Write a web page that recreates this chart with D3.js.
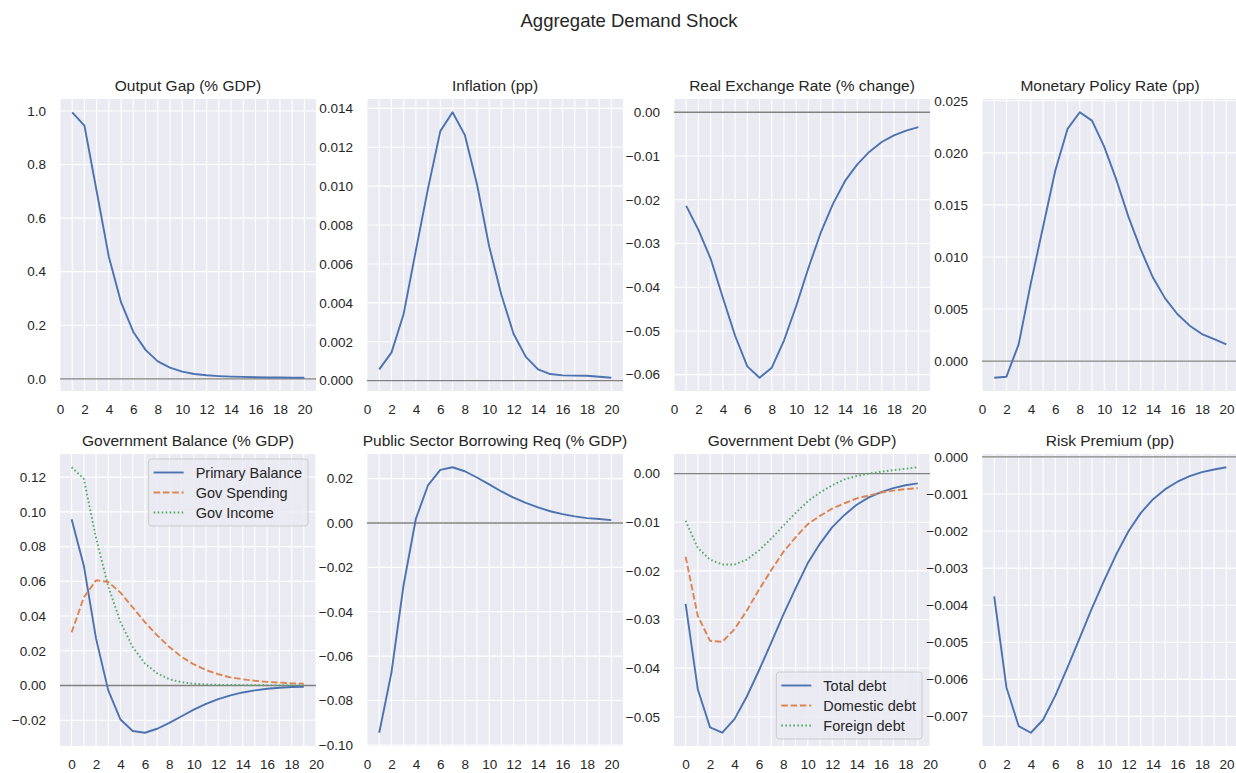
<!DOCTYPE html>
<html>
<head>
<meta charset="utf-8">
<script src="https://cdn.jsdelivr.net/npm/d3@7"></script>
<style>
  html, body { margin: 0; padding: 0; background: #ffffff; }
  svg { display: block; font-family: "Liberation Sans", Arial, sans-serif; }
</style>
</head>
<body>
<svg id="chart" width="1236" height="773"></svg>
<script>
// Horizons (quarters after the shock)
const horizon1to20 = [1,2,3,4,5,6,7,8,9,10,11,12,13,14,15,16,17,18,19,20];
const horizon0to19 = [0,1,2,3,4,5,6,7,8,9,10,11,12,13,14,15,16,17,18,19];
const xTickLabels = [0,2,4,6,8,10,12,14,16,18,20];

// Impulse responses
const outputGap = [0.995,0.945,0.70,0.455,0.285,0.175,0.108,0.065,0.042,0.027,0.018,0.013,0.010,0.008,0.007,0.006,0.005,0.005,0.004,0.004];
const inflation = [0.00058,0.00144,0.00343,0.0067,0.0099,0.01283,0.0138,0.01264,0.0101,0.0069,0.0044,0.0024,0.00122,0.00058,0.00034,0.00027,0.00026,0.00025,0.0002,0.00015];
const realExchangeRate = [-0.0214,-0.0269,-0.0335,-0.0424,-0.0511,-0.0581,-0.0607,-0.0584,-0.0522,-0.0443,-0.0356,-0.0276,-0.0210,-0.0157,-0.0119,-0.0090,-0.0068,-0.0053,-0.0042,-0.0034];
const policyRate = [-0.0016,-0.0015,0.0016,0.0075,0.0129,0.0183,0.0223,0.0239,0.0231,0.0206,0.0174,0.0138,0.0107,0.0080,0.0060,0.0045,0.0034,0.0026,0.0021,0.0016];
const primaryBalance = [0.0957,0.0690,0.0270,-0.0028,-0.0196,-0.0262,-0.0272,-0.0249,-0.0215,-0.0177,-0.0139,-0.0106,-0.0078,-0.0057,-0.0040,-0.0028,-0.0019,-0.0013,-0.0009,-0.0008];
const govSpending = [0.0306,0.0507,0.0606,0.0596,0.0535,0.0450,0.0365,0.0289,0.0222,0.0165,0.0122,0.0089,0.0065,0.0047,0.0036,0.0027,0.0021,0.0017,0.0013,0.0011];
const govIncome = [0.1257,0.1190,0.0849,0.0570,0.0365,0.0222,0.0127,0.0070,0.0036,0.0019,0.0010,0.0006,0.0004,0.0003,0.0002,0.0002,0.0001,0.0001,0.0001,0.0001];
const borrowingReq = [-0.0945,-0.0674,-0.0277,0.0019,0.0171,0.0239,0.0251,0.0233,0.0205,0.0174,0.0142,0.0114,0.0091,0.0070,0.0053,0.0040,0.0030,0.0022,0.0018,0.0013];
const totalDebt = [-0.0268,-0.0444,-0.0522,-0.0533,-0.0505,-0.0459,-0.0405,-0.0348,-0.0290,-0.0236,-0.0184,-0.0144,-0.0110,-0.0085,-0.0064,-0.0049,-0.0038,-0.0030,-0.0024,-0.0020];
const domesticDebt = [-0.0171,-0.0293,-0.0344,-0.0346,-0.0320,-0.0282,-0.0239,-0.0199,-0.0161,-0.0131,-0.0104,-0.0087,-0.0072,-0.0061,-0.0051,-0.0045,-0.0039,-0.0035,-0.0032,-0.0030];
const foreignDebt = [-0.0097,-0.0153,-0.0177,-0.0187,-0.0187,-0.0177,-0.0158,-0.0134,-0.0107,-0.0081,-0.0057,-0.0039,-0.0024,-0.0012,-0.0005,0.0000,0.0004,0.0007,0.0010,0.0013];
const riskPremium = [-0.00376,-0.00622,-0.00726,-0.00744,-0.00709,-0.00644,-0.00568,-0.00488,-0.00408,-0.00333,-0.00262,-0.00200,-0.00151,-0.00114,-0.00087,-0.00067,-0.00052,-0.00041,-0.00034,-0.00028];

// Y tick values per panel
const ticksOutputGap = [0.0,0.2,0.4,0.6,0.8,1.0];
const ticksInflation = [0.000,0.002,0.004,0.006,0.008,0.010,0.012,0.014];
const ticksRER = [-0.06,-0.05,-0.04,-0.03,-0.02,-0.01,0.00];
const ticksPolicy = [0.000,0.005,0.010,0.015,0.020,0.025];
const ticksBalance = [-0.02,0.00,0.02,0.04,0.06,0.08,0.10,0.12];
const ticksBorrowing = [-0.10,-0.08,-0.06,-0.04,-0.02,0.00,0.02];
const ticksDebt = [-0.05,-0.04,-0.03,-0.02,-0.01,0.00];
const ticksRisk = [-0.007,-0.006,-0.005,-0.004,-0.003,-0.002,-0.001,0.000];

const seriesStyle = {
  blue:   { color: "#4C72B0", dash: null },
  orange: { color: "#DD8452", dash: "6.5,2.8" },
  green:  { color: "#55A868", dash: "1.6,2.4" }
};

const panels = [
  { title: "Output Gap (% GDP)", x: horizon1to20, yTicks: ticksOutputGap, dec: 1,
    series: [{ name: "Output Gap", values: outputGap, style: "blue" }] },
  { title: "Inflation (pp)", x: horizon1to20, yTicks: ticksInflation, dec: 3,
    series: [{ name: "Inflation", values: inflation, style: "blue" }] },
  { title: "Real Exchange Rate (% change)", x: horizon1to20, yTicks: ticksRER, dec: 2,
    series: [{ name: "RER", values: realExchangeRate, style: "blue" }] },
  { title: "Monetary Policy Rate (pp)", x: horizon1to20, yTicks: ticksPolicy, dec: 3,
    series: [{ name: "MPR", values: policyRate, style: "blue" }] },
  { title: "Government Balance (% GDP)", x: horizon0to19, yTicks: ticksBalance, dec: 2, legend: "upper",
    series: [
      { name: "Primary Balance", values: primaryBalance, style: "blue" },
      { name: "Gov Spending", values: govSpending, style: "orange" },
      { name: "Gov Income", values: govIncome, style: "green" }
    ] },
  { title: "Public Sector Borrowing Req (% GDP)", x: horizon1to20, yTicks: ticksBorrowing, dec: 2,
    series: [{ name: "PSBR", values: borrowingReq, style: "blue" }] },
  { title: "Government Debt (% GDP)", x: horizon0to19, yTicks: ticksDebt, dec: 2, legend: "lower",
    series: [
      { name: "Total debt", values: totalDebt, style: "blue" },
      { name: "Domestic debt", values: domesticDebt, style: "orange" },
      { name: "Foreign debt", values: foreignDebt, style: "green" }
    ] },
  { title: "Risk Premium (pp)", x: horizon1to20, yTicks: ticksRisk, dec: 3,
    series: [{ name: "Risk Premium", values: riskPremium, style: "blue" }] }
];

const svg = d3.select("#chart");
const TEXT = "#262626";
const BG = "#EAEAF2";

// grid of axes
const colLeft = [60, 367, 674, 982];
const rowTop = [99, 454];
const PW = 256, PH = 292;

svg.append("text")
  .attr("x", 629).attr("y", 27)
  .attr("text-anchor", "middle")
  .attr("font-size", 18.5)
  .attr("fill", TEXT)
  .text("Aggregate Demand Shock");

function paddedExtent(lo, hi) {
  const pad = (hi - lo) * 0.05;
  return [lo - pad, hi + pad];
}

panels.forEach((p, i) => {
  const left = colLeft[i % 4], top = rowTop[Math.floor(i / 4)];
  const g = svg.append("g").attr("transform", `translate(${left},${top})`);

  // x limits: data with 5% margins, widened to show every tick
  let [xlo, xhi] = paddedExtent(d3.min(p.x), d3.max(p.x));
  xlo = Math.min(xlo, d3.min(xTickLabels));
  xhi = Math.max(xhi, d3.max(xTickLabels));
  const x = d3.scaleLinear().domain([xlo, xhi]).range([0, PW]);

  // y limits: data with 5% margins, re-fit if the zero line falls outside
  const all = p.series.flatMap(s => s.values);
  let ymin = d3.min(all), ymax = d3.max(all);
  let [ylo, yhi] = paddedExtent(ymin, ymax);
  if (0 < ylo || 0 > yhi) {
    [ylo, yhi] = paddedExtent(Math.min(ymin, 0), Math.max(ymax, 0));
  }
  const y = d3.scaleLinear().domain([ylo, yhi]).range([PH, 0]);

  g.append("rect").attr("width", PW).attr("height", PH).attr("fill", BG);

  // vertical grid at every period
  const xGrid = d3.range(Math.ceil(xlo), Math.floor(xhi) + 1);
  g.selectAll(".vgrid").data(xGrid).join("line")
    .attr("x1", d => x(d)).attr("x2", d => x(d))
    .attr("y1", 0).attr("y2", PH)
    .attr("stroke", "#ffffff").attr("stroke-width", 1.1);

  const yTicks = p.yTicks.filter(v => v >= ylo && v <= yhi);
  g.selectAll(".hgrid").data(yTicks).join("line")
    .attr("x1", 0).attr("x2", PW)
    .attr("y1", d => y(d)).attr("y2", d => y(d))
    .attr("stroke", "#ffffff").attr("stroke-width", 1.1);

  // axes (tick marks hidden, labels only)
  const fmt = d3.format(`.${p.dec}f`);
  const yAxis = d3.axisLeft(y).tickValues(yTicks).tickFormat(fmt).tickSize(0).tickPadding(14);
  const ya = g.append("g").call(yAxis);
  ya.select(".domain").remove();
  ya.selectAll("text").attr("font-size", 13.5).attr("fill", TEXT)
    .attr("font-family", "'Liberation Sans', Arial, sans-serif");

  const xAxis = d3.axisBottom(x).tickValues(xTickLabels).tickFormat(d3.format("d")).tickSize(0).tickPadding(13);
  const xa = g.append("g").attr("transform", `translate(0,${PH})`).call(xAxis);
  xa.select(".domain").remove();
  xa.selectAll("text").attr("font-size", 13.5).attr("fill", TEXT)
    .attr("font-family", "'Liberation Sans', Arial, sans-serif");

  // zero reference line
  g.append("line")
    .attr("x1", 0).attr("x2", PW)
    .attr("y1", y(0)).attr("y2", y(0))
    .attr("stroke", "#808080").attr("stroke-width", 1.3);

  const line = d3.line().x((d, j) => x(p.x[j])).y(d => y(d));
  p.series.forEach(s => {
    const st = seriesStyle[s.style];
    g.append("path")
      .attr("d", line(s.values))
      .attr("fill", "none")
      .attr("stroke", st.color)
      .attr("stroke-width", 1.9)
      .attr("stroke-linejoin", "round")
      .attr("stroke-dasharray", st.dash);
  });

  g.append("text")
    .attr("x", PW / 2).attr("y", -8)
    .attr("text-anchor", "middle")
    .attr("font-size", 15.5)
    .attr("fill", TEXT)
    .text(p.title);

  if (p.legend) {
    const lg = g.append("g");
    const box = lg.append("rect")
      .attr("fill", BG).attr("fill-opacity", 0.85)
      .attr("stroke", "#cccccc").attr("stroke-width", 1)
      .attr("rx", 3);
    const rows = lg.selectAll(".row").data(p.series).join("g")
      .attr("transform", (d, j) => `translate(0,${13.5 + j * 20})`);
    rows.append("line")
      .attr("x1", 5).attr("x2", 35).attr("y1", 0).attr("y2", 0)
      .attr("stroke", d => seriesStyle[d.style].color)
      .attr("stroke-width", 1.9)
      .attr("stroke-dasharray", d => seriesStyle[d.style].dash);
    const labels = rows.append("text")
      .attr("x", 47).attr("y", 5)
      .attr("font-size", 14.5).attr("fill", TEXT)
      .text(d => d.name);
    let wmax = 0;
    labels.each(function() { wmax = Math.max(wmax, this.getComputedTextLength()); });
    const bw = 47 + wmax + 6, bh = 13.5 + (p.series.length - 1) * 20 + 13.5;
    box.attr("width", bw).attr("height", bh);
    const lx = PW - 8 - bw;
    const ly = p.legend === "upper" ? 5 : PH - 7 - bh;
    lg.attr("transform", `translate(${lx},${ly})`);
  }
});
</script>
</body>
</html>
